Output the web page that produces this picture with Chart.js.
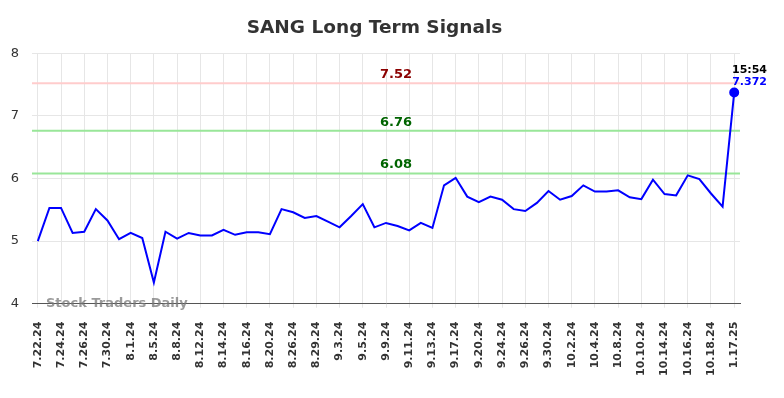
<!DOCTYPE html>
<html>
<head>
<meta charset="utf-8">
<script src="https://cdn.jsdelivr.net/npm/chart.js@4.4.1/dist/chart.umd.min.js"></script>
<style>
  body { margin: 0; background: #fff; }
  #wrap { width: 784px; height: 398px; }
</style>
</head>
<body>
<div id="wrap"><canvas id="chart"></canvas></div>
<script>
const dates = [
    '7.22.24', '7.23.24', '7.24.24', '7.25.24', '7.26.24', '7.29.24', '7.30.24', '7.31.24',
    '8.1.24', '8.2.24', '8.5.24', '8.7.24', '8.8.24', '8.9.24', '8.12.24', '8.13.24',
    '8.14.24', '8.15.24', '8.16.24', '8.19.24', '8.20.24', '8.23.24', '8.26.24', '8.28.24',
    '8.29.24', '8.30.24', '9.3.24', '9.4.24', '9.5.24', '9.6.24', '9.9.24', '9.10.24',
    '9.11.24', '9.12.24', '9.13.24', '9.16.24', '9.17.24', '9.19.24', '9.20.24', '9.23.24',
    '9.24.24', '9.25.24', '9.26.24', '9.27.24', '9.30.24', '10.1.24', '10.2.24', '10.3.24',
    '10.4.24', '10.7.24', '10.8.24', '10.9.24', '10.10.24', '10.11.24', '10.14.24', '10.15.24',
    '10.16.24', '10.17.24', '10.18.24', '10.21.24', '1.17.25'
];
const prices = [
    5.00, 5.53, 5.53, 5.13, 5.15, 5.51, 5.33, 5.03, 5.13, 5.05,
    4.34, 5.15, 5.04, 5.13, 5.09, 5.09, 5.18, 5.10, 5.14, 5.14,
    5.11, 5.51, 5.46, 5.37, 5.40, 5.31, 5.22, 5.40, 5.59, 5.22,
    5.29, 5.24, 5.17, 5.29, 5.21, 5.89, 6.01, 5.71, 5.62, 5.71,
    5.66, 5.51, 5.48, 5.61, 5.80, 5.66, 5.72, 5.89, 5.79, 5.79,
    5.81, 5.70, 5.67, 5.98, 5.75, 5.73, 6.05, 5.99, 5.76, 5.55,
    7.372
];
const yTicks = [4, 5, 6, 7, 8];
const signalValues = [7.52, 6.76, 6.08];
const signalLineColors = ['#ffcccc', '#99e699', '#99e699'];
const signalTextColors = ['#8b0000', '#006400', '#006400'];
const lastTime = '15:54';

// lignes de signal, filigrane et etiquette du dernier point
const overlay = {
    id: 'overlay',
    beforeDatasetsDraw(chart) {
        const {ctx, chartArea, scales} = chart;
        ctx.save();
        signalValues.forEach((v, i) => {
            const y = scales.y.getPixelForValue(v);
            ctx.strokeStyle = signalLineColors[i];
            ctx.lineWidth = 2;
            ctx.beginPath();
            ctx.moveTo(chartArea.left, y);
            ctx.lineTo(chartArea.right, y);
            ctx.stroke();
            ctx.fillStyle = signalTextColors[i];
            ctx.font = 'bold 13px "DejaVu Sans"';
            ctx.textAlign = 'center';
            ctx.textBaseline = 'alphabetic';
            ctx.fillText(v.toFixed(2), 396, y - 5);
        });
        ctx.fillStyle = 'rgba(120,120,120,0.75)';
        ctx.font = 'bold 13px "DejaVu Sans"';
        ctx.textAlign = 'left';
        ctx.textBaseline = 'middle';
        ctx.fillText('Stock Traders Daily', chartArea.left + 14, chartArea.bottom);
        ctx.restore();
    },
    afterDatasetsDraw(chart) {
        const {ctx, scales} = chart;
        const n = prices.length - 1;
        const y = scales.y.getPixelForValue(prices[n]);
        ctx.save();
        ctx.font = 'bold 11px "DejaVu Sans"';
        ctx.textAlign = 'right';
        ctx.textBaseline = 'alphabetic';
        ctx.fillStyle = '#000';
        ctx.fillText(lastTime, 767, y - 20);
        ctx.fillStyle = '#0000ff';
        ctx.fillText(prices[n].toFixed(3), 767, y - 8);
        ctx.restore();
    }
};

new Chart(document.getElementById('chart'), {
    type: 'line',
    data: {
        labels: dates,
        datasets: [{
            data: prices,
            borderColor: '#0000ff',
            backgroundColor: '#0000ff',
            borderWidth: 2,
            tension: 0,
            pointRadius: ctx => ctx.dataIndex === prices.length - 1 ? 4 : 0,
            pointHoverRadius: 0
        }]
    },
    options: {
        responsive: true,
        maintainAspectRatio: false,
        animation: false,
        layout: {padding: {left: 9, right: 44, top: 0, bottom: 8}},
        plugins: {
            legend: {display: false},
            tooltip: {enabled: false},
            title: {
                display: true,
                text: 'SANG Long Term Signals',
                color: '#333',
                font: {size: 18.5, weight: 'bold', family: '"DejaVu Sans"'},
                padding: {top: 17, bottom: 14}
            }
        },
        scales: {
            x: {
                offset: true,
                grid: {color: '#e6e6e6', offset: false, drawTicks: true, tickLength: 4},
                border: {color: '#555', width: 1},
                ticks: {
                    autoSkip: false,
                    maxRotation: 90,
                    minRotation: 90,
                    color: '#333',
                    font: {size: 11, weight: 'bold', family: '"DejaVu Sans"'},
                    padding: 14,
                    callback: (v, i) => i % 2 === 0 ? dates[i] : null
                }
            },
            y: {
                min: yTicks[0],
                max: yTicks[yTicks.length - 1],
                grid: {color: '#e6e6e6', drawTicks: false},
                border: {display: false},
                afterBuildTicks: axis => { axis.ticks = yTicks.map(v => ({value: v})); },
                afterFit: axis => { axis.width = 23; },
                ticks: {
                    color: '#333',
                    font: {size: 13, family: '"DejaVu Sans"'},
                    padding: 13
                }
            }
        }
    },
    plugins: [overlay]
});
</script>
</body>
</html>
